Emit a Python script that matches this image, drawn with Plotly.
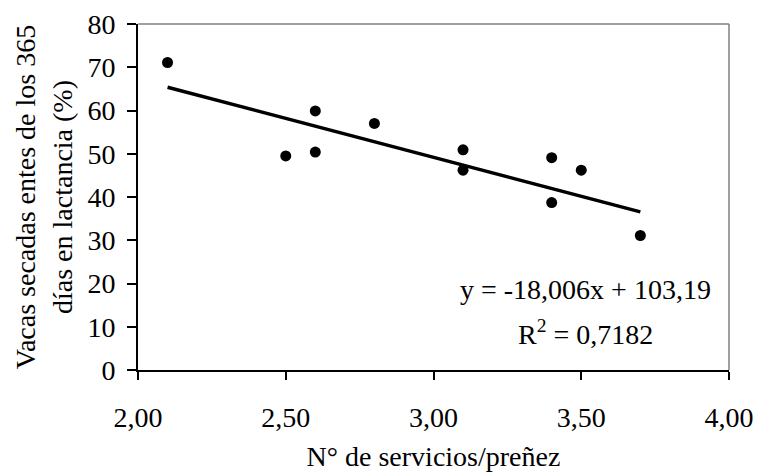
import numpy as np
import plotly.graph_objects as go

# Data
servicios = [2.10, 2.50, 2.60, 2.60, 2.80, 3.10, 3.10, 3.40, 3.40, 3.50, 3.70]
vacas_secadas = [71.1, 49.5, 59.9, 50.4, 57.0, 50.9, 46.2, 49.1, 38.7, 46.2, 31.1]

# Trendline (as given in the chart)
slope = -18.006
intercept = 103.19
r2 = 0.7182

eq_text = "y = -18,006x + 103,19"
r2_text = "R<sup>2</sup> = 0,7182"

x_title = "N° de servicios/preñez"
y_title = "Vacas secadas entes de los 365<br>días en lactancia (%)"

FONT = "Liberation Serif"
FS = 28

xt = np.array([min(servicios), max(servicios)])
yt = slope * xt + intercept

fig = go.Figure()
fig.add_trace(go.Scatter(
    x=list(xt), y=list(yt), mode="lines",
    line=dict(color="black", width=3.5), showlegend=False, hoverinfo="skip"))
fig.add_trace(go.Scatter(
    x=servicios, y=vacas_secadas, mode="markers",
    marker=dict(color="black", size=11), showlegend=False))

fig.update_layout(
    template="none",
    width=757, height=472,
    margin=dict(l=138, r=28, t=24, b=102),
    paper_bgcolor="white", plot_bgcolor="white",
    separators=", ",
    font=dict(family=FONT, size=FS, color="black"),
    shapes=[
        dict(type="line", xref="paper", yref="paper", x0=0, x1=1, y0=1, y1=1,
             line=dict(color="#808080", width=1.5)),
        dict(type="line", xref="paper", yref="paper", x0=1, x1=1, y0=0, y1=1,
             line=dict(color="#808080", width=1.5)),
    ],
    annotations=[
        dict(text=eq_text, xref="paper", yref="paper", x=0.758, y=0.233,
             xanchor="center", yanchor="middle", showarrow=False,
             font=dict(family=FONT, size=FS, color="black")),
        dict(text=r2_text, xref="paper", yref="paper", x=0.758, y=0.109,
             xanchor="center", yanchor="middle", showarrow=False,
             font=dict(family=FONT, size=FS, color="black")),
    ],
)

fig.update_xaxes(
    automargin=False,
    range=[2, 4], dtick=0.5, tick0=2, tickformat=".2f",
    showgrid=False, zeroline=False,
    showline=True, linecolor="black", linewidth=2,
    ticks="outside", ticklen=8, tickwidth=2, tickcolor="black",
    ticklabelstandoff=13,
    title=dict(text=x_title, standoff=15, font=dict(family=FONT, size=FS, color="black")),
    tickfont=dict(family=FONT, size=FS, color="black"),
)
fig.update_yaxes(
    automargin=False,
    range=[0, 80], dtick=10, tick0=0,
    showgrid=False, zeroline=False,
    showline=True, linecolor="black", linewidth=2,
    ticks="outside", ticklen=9, tickwidth=2, tickcolor="black",
    ticklabelstandoff=6,
    title=dict(text=y_title, standoff=7, font=dict(family=FONT, size=FS, color="black")),
    tickfont=dict(family=FONT, size=FS, color="black"),
)

fig.write_html("out.html", config={"displayModeBar": False},
               post_script="document.body.style.margin='0';")
